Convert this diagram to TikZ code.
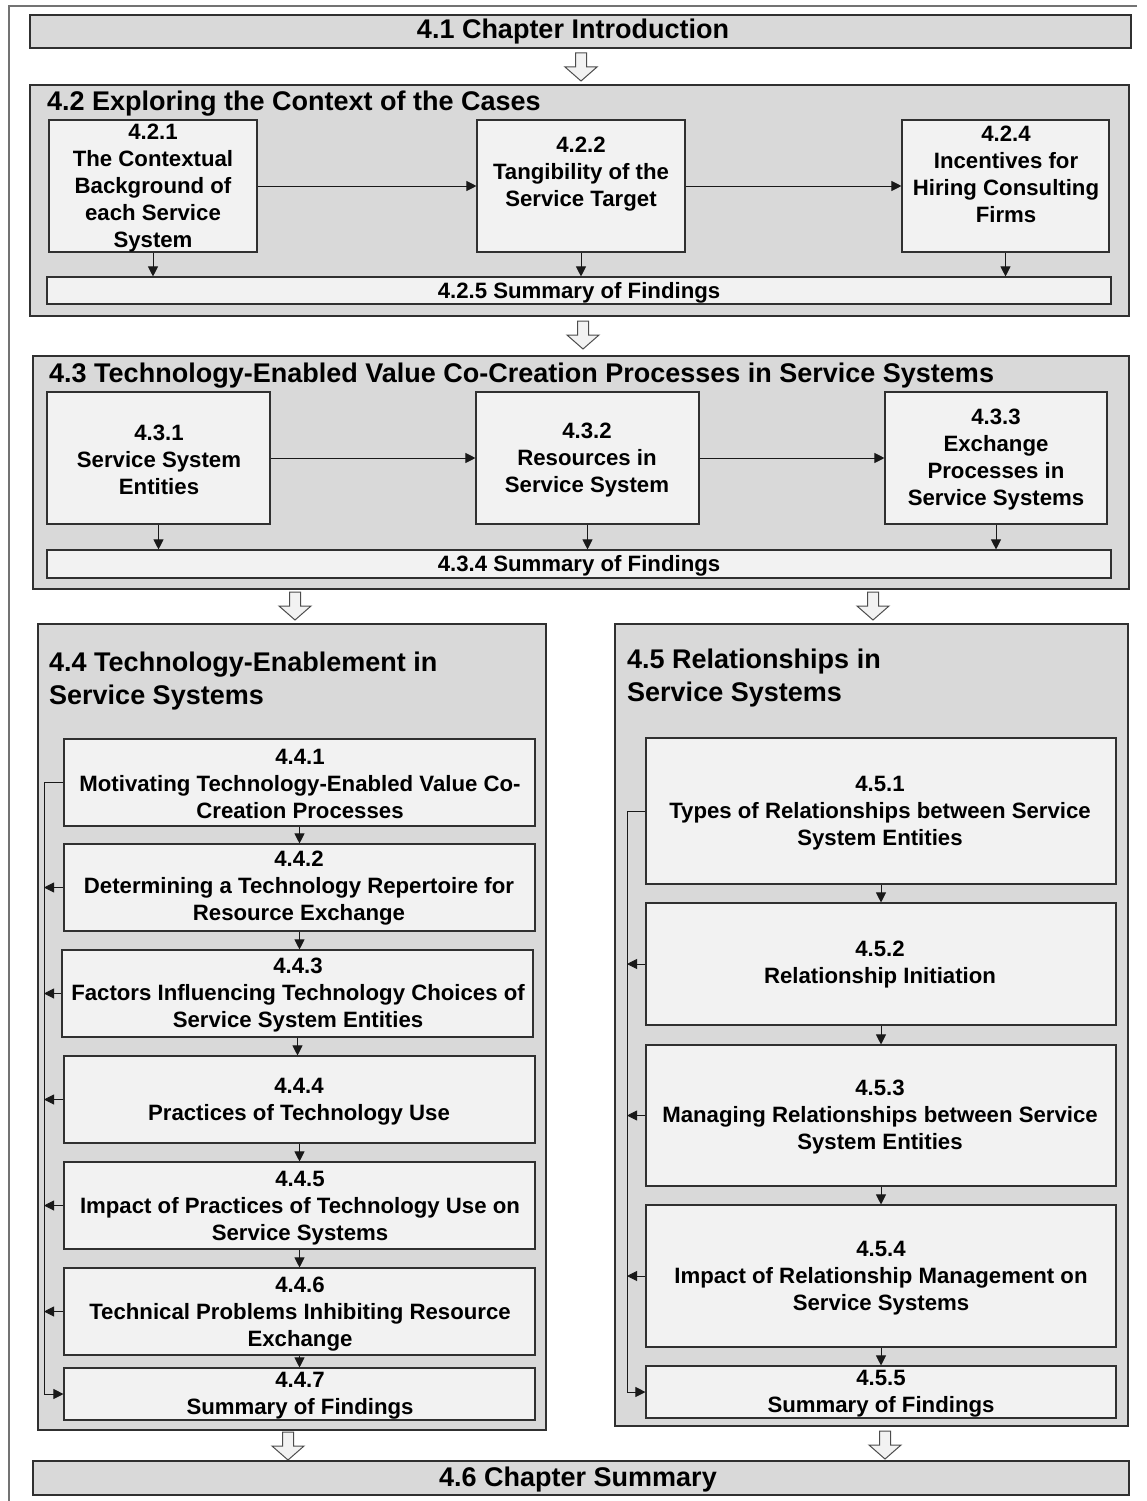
\documentclass[tikz,border=0pt]{standalone}
\usepackage{fontspec}
\setmainfont{Liberation Sans}
\usetikzlibrary{arrows.meta}
\definecolor{outerfill}{HTML}{D9D9D9}
\definecolor{innerfill}{HTML}{F2F2F2}
\definecolor{edge}{HTML}{303030}

% box from corner (x1,y1) to corner (x2,y2): style, name, x1, y1, x2, y2
\newcommand\mkbox[6]{%
  \pgfmathsetmacro\mkw{#5-#3}\pgfmathsetmacro\mkh{#6-#4}%
  \node[#1, minimum width=\mkw pt, minimum height=\mkh pt] (#2) at ({(#3+#5)/2},{(#4+#6)/2}) {};}

\tikzset{
  outerbox/.style={draw=edge, line width=1.3pt, fill=outerfill, inner sep=0pt},
  innerbox/.style={draw=edge, line width=1.1pt, fill=innerfill, inner sep=0pt},
  subtxt/.style={font=\bfseries\fontsize{22.2}{27}\selectfont, align=center, inner sep=0pt, yshift=-2pt},
  titletxt/.style={font=\bfseries\fontsize{27}{33}\selectfont, align=left, inner sep=0pt, yshift=-2pt},
  link/.style={draw=black!90, line width=0.9pt, -{Triangle[length=10pt,width=10pt]}},
  frame/.style={draw=black!55, line width=1.3pt},
  hollow/.pic={\draw[draw=black!70, line width=1pt, fill=innerfill, line join=miter]
    (-5.5,0) -- (5.5,0) -- (5.5,14) -- (16,14) -- (0,28) -- (-16,14) -- (-5.5,14) -- cycle;}
}

\begin{document}
\begin{tikzpicture}[x=1pt,y=-1pt]
\path[use as bounding box] (0,0) rectangle (1147,1501);

% page frame (top and left rules)
\draw[frame] (1137,6) -- (9,6) -- (9,1501);

% ---------- 4.1 ----------
\mkbox{outerbox}{b41}{30}{15}{1131}{48}
\node[titletxt] (t41) at (573,30) {4.1 Chapter Introduction};
\pic at (581,53) {hollow};

% ---------- 4.2 ----------
\mkbox{outerbox}{b42}{30}{85}{1129}{316}
\node[titletxt, anchor=west] (t42) at (47,102) {4.2 Exploring the Context of the Cases};
\mkbox{innerbox}{b421}{49}{120}{257}{252}
\mkbox{innerbox}{b422}{477}{120}{685}{252}
\mkbox{innerbox}{b424}{902}{120}{1109}{252}
\mkbox{innerbox}{b425}{47}{277}{1111}{304}
\node[subtxt] (t421) at (153,186) {4.2.1\\The Contextual\\Background of\\each Service\\System};
\node[subtxt] (t422) at (581,172) {4.2.2\\Tangibility of the\\Service Target};
\node[subtxt] (t424) at (1006,172) {4.2.4\\Incentives for\\Hiring Consulting\\Firms};
\node[subtxt] (t425) at (579,291) {4.2.5 Summary of Findings};
\draw[link] (b421.east) -- (b422.west);
\draw[link] (b422.east) -- (b424.west);
\draw[link] (b421.south) -- (b421.south |- b425.north);
\draw[link] (b422.south) -- (b422.south |- b425.north);
\draw[link] (b424.south) -- (b424.south |- b425.north);
\pic at (583,321) {hollow};

% ---------- 4.3 ----------
\mkbox{outerbox}{b43}{33}{356}{1129}{589}
\node[titletxt, anchor=west] (t43) at (49,374) {4.3 Technology-Enabled Value Co-Creation Processes in Service Systems};
\mkbox{innerbox}{b431}{47}{392}{270}{524}
\mkbox{innerbox}{b432}{476}{392}{699}{524}
\mkbox{innerbox}{b433}{885}{392}{1107}{524}
\mkbox{innerbox}{b434}{47}{550}{1111}{578}
\node[subtxt] (t431) at (159,458) {4.3.1\\Service System\\Entities};
\node[subtxt] (t432) at (587,458) {4.3.2\\Resources in\\Service System};
\node[subtxt] (t433) at (996,458) {4.3.3\\Exchange\\Processes in\\Service Systems};
\node[subtxt] (t434) at (579,564) {4.3.4 Summary of Findings};
\draw[link] (b431.east) -- (b432.west);
\draw[link] (b432.east) -- (b433.west);
\draw[link] (b431.south) -- (b431.south |- b434.north);
\draw[link] (b432.south) -- (b432.south |- b434.north);
\draw[link] (b433.south) -- (b433.south |- b434.north);
\pic at (295,592) {hollow};
\pic at (873,592) {hollow};

% ---------- 4.4 ----------
\mkbox{outerbox}{b44}{38}{624}{546}{1430}
\node[titletxt, anchor=west] (t44) at (49,679) {4.4 Technology-Enablement in\\Service Systems};
\mkbox{innerbox}{b441}{64}{739}{535}{826}
\mkbox{innerbox}{b442}{64}{844}{535}{931}
\mkbox{innerbox}{b443}{62}{950}{533}{1037}
\mkbox{innerbox}{b444}{64}{1056}{535}{1143}
\mkbox{innerbox}{b445}{64}{1162}{535}{1249}
\mkbox{innerbox}{b446}{64}{1268}{535}{1355}
\mkbox{innerbox}{b447}{64}{1368}{535}{1420}
\node[subtxt] (t441) at (300,782) {4.4.1\\Motivating Technology-Enabled Value Co-\\Creation Processes};
\node[subtxt] (t442) at (299,886) {4.4.2\\Determining a Technology Repertoire for\\Resource Exchange};
\node[subtxt] (t443) at (298,993) {4.4.3\\Factors Influencing Technology Choices of\\Service System Entities};
\node[subtxt] (t444) at (299,1100) {4.4.4\\Practices of Technology Use};
\node[subtxt] (t445) at (300,1206) {4.4.5\\Impact of Practices of Technology Use on\\Service Systems};
\node[subtxt] (t446) at (300,1312) {4.4.6\\Technical Problems Inhibiting Resource\\Exchange};
\node[subtxt] (t447) at (300,1394) {4.4.7\\Summary of Findings};
\draw[link] (b441.south) -- (b441.south |- b442.north);
\draw[link] (b442.south) -- (b442.south |- b443.north);
\draw[link] (b443.south) -- (b443.south |- b444.north);
\draw[link] (b444.south) -- (b444.south |- b445.north);
\draw[link] (b445.south) -- (b445.south |- b446.north);
\draw[link] (b446.south) -- (b446.south |- b447.north);
\coordinate (rail4) at (44,0);
\draw[link] (b441.west) -- (b441.west -| rail4) |- (b447.west);
\draw[link] (b442.west) -- (b442.west -| rail4);
\draw[link] (b443.west) -- (b443.west -| rail4);
\draw[link] (b444.west) -- (b444.west -| rail4);
\draw[link] (b445.west) -- (b445.west -| rail4);
\draw[link] (b446.west) -- (b446.west -| rail4);
\pic at (288,1432) {hollow};

% ---------- 4.5 ----------
\mkbox{outerbox}{b45}{615}{624}{1128}{1426}
\node[titletxt, anchor=west] (t45) at (627,676) {4.5 Relationships in\\Service Systems};
\mkbox{innerbox}{b451}{646}{738}{1116}{884}
\mkbox{innerbox}{b452}{646}{903}{1116}{1025}
\mkbox{innerbox}{b453}{646}{1045}{1116}{1186}
\mkbox{innerbox}{b454}{646}{1205}{1116}{1347}
\mkbox{innerbox}{b455}{646}{1366}{1116}{1418}
\node[subtxt] (t451) at (880,811) {4.5.1\\Types of Relationships between Service\\System Entities};
\node[subtxt] (t452) at (880,963) {4.5.2\\Relationship Initiation};
\node[subtxt] (t453) at (880,1115) {4.5.3\\Managing Relationships between Service\\System Entities};
\node[subtxt] (t454) at (881,1276) {4.5.4\\Impact of Relationship Management on\\Service Systems};
\node[subtxt] (t455) at (881,1392) {4.5.5\\Summary of Findings};
\draw[link] (b451.south) -- (b451.south |- b452.north);
\draw[link] (b452.south) -- (b452.south |- b453.north);
\draw[link] (b453.south) -- (b453.south |- b454.north);
\draw[link] (b454.south) -- (b454.south |- b455.north);
\coordinate (rail5) at (627,0);
\draw[link] (b451.west) -- (b451.west -| rail5) |- (b455.west);
\draw[link] (b452.west) -- (b452.west -| rail5);
\draw[link] (b453.west) -- (b453.west -| rail5);
\draw[link] (b454.west) -- (b454.west -| rail5);
\pic at (885,1431) {hollow};

% ---------- 4.6 ----------
\mkbox{outerbox}{b46}{33}{1461}{1129}{1495}
\node[titletxt] (t46) at (578,1478) {4.6 Chapter Summary};
\end{tikzpicture}
\end{document}
